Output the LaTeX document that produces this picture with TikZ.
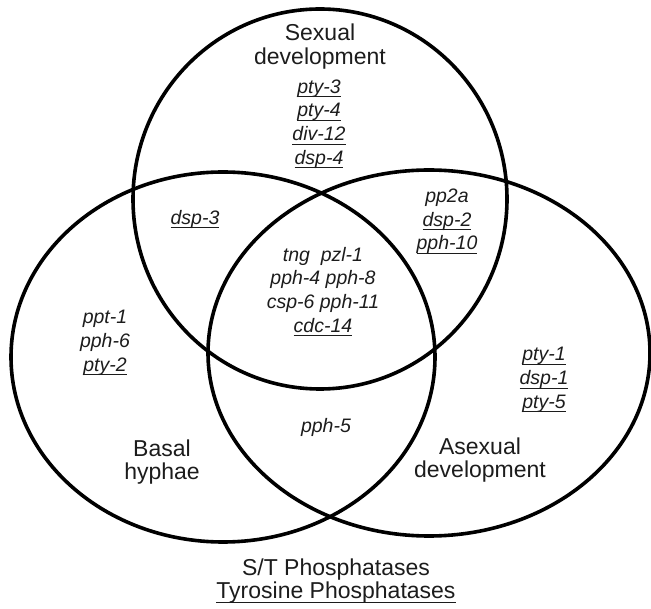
\documentclass[tikz,border=0pt]{standalone}
\usepackage{fontspec}
\setmainfont{Liberation Sans}
\definecolor{vennInk}{HTML}{1C1C1C}
\newsavebox\genebox
\newcommand{\tyro}[1]{\sbox\genebox{#1}\rlap{\rule[-4pt]{\wd\genebox}{1.1pt}}\usebox\genebox}

\begin{document}
\begin{tikzpicture}[x=1pt, y=-1pt,
    ring/.style={line width=3.6pt, black},
    setname/.style={font=\fontsize{23}{23.5}\selectfont, align=center, text=vennInk, inner sep=0pt},
    genes/.style={font=\fontsize{19.5}{23.7}\selectfont\itshape, align=center, text=vennInk, inner sep=0pt}]
    \useasboundingbox (0,0) rectangle (651,609);

    % the three sets
    \draw[ring] (320,199) ellipse [x radius=187pt, y radius=190pt];
    \draw[ring] (223,357) ellipse [x radius=212pt, y radius=185pt];
    \draw[ring] (429,353) ellipse [x radius=221pt, y radius=183pt];

    \node[setname] (sexual) at (320,46.5) {Sexual\\development};
    \node[setname] (basal) at (162,462) {Basal\\hyphae};
    \node[setname] (asexual) at (480,460) {Asexual\\development};

    \node[genes] (sexOnly) at (319,124) {\tyro{pty-3}\\\tyro{pty-4}\\\tyro{div-12}\\\tyro{dsp-4}};
    \node[genes] (sexBasal) at (195,219) {\tyro{dsp-3}};
    \node[genes] (sexAsex) at (447,221.5) {pp2a\\\tyro{dsp-2}\\\tyro{pph-10}};
    \node[genes] (core) at (323,291.5) {tng\ \ pzl-1\\pph-4 pph-8\\csp-6 pph-11\\\tyro{cdc-14}};
    \node[genes] (basalOnly) at (105,343) {ppt-1\\pph-6\\\tyro{pty-2}};
    \node[genes] (asexOnly) at (544,380) {\tyro{pty-1}\\\tyro{dsp-1}\\\tyro{pty-5}};
    \node[genes] (basalAsex) at (326,427) {pph-5};

    % key
    \node[setname] (key) at (336,581) {S/T Phosphatases\\\tyro{Tyrosine Phosphatases}};
\end{tikzpicture}
\end{document}
